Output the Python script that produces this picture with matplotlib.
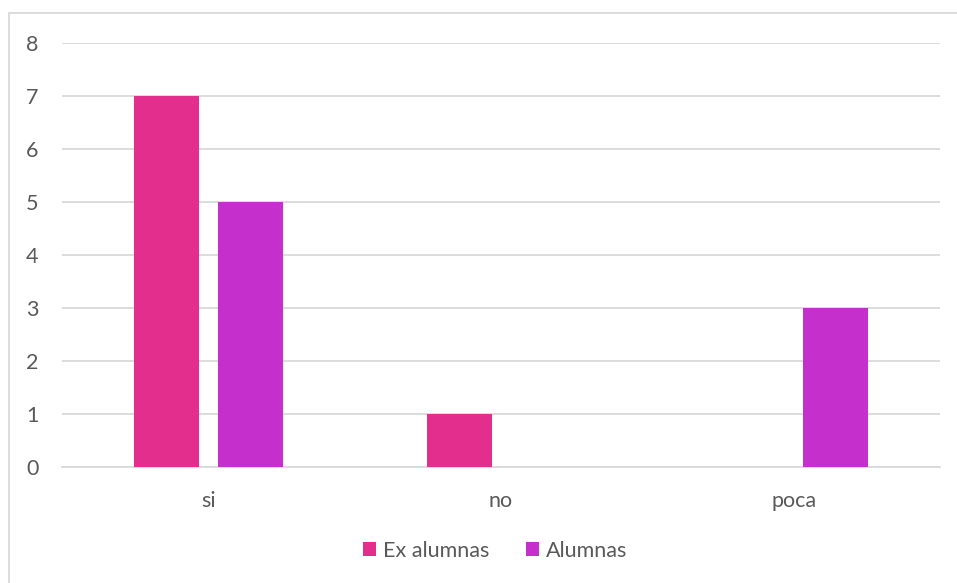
import matplotlib
matplotlib.use("Agg")
import matplotlib.pyplot as plt
from matplotlib.patches import Rectangle
import numpy as np

categories = ["si", "no", "poca"]
ex_alumnas = [7, 1, 0]
alumnas = [5, 0, 3]
series_names = ["Ex alumnas", "Alumnas"]
yticks = [0, 1, 2, 3, 4, 5, 6, 7, 8]

c_ex = "#E32E8D"
c_al = "#C52FCB"
txt = "#595959"
grid = "#D9D9D9"

plt.rcParams["font.family"] = ["Lato", "DejaVu Sans"]

W, H = 957, 583
fig = plt.figure(figsize=(W / 100, H / 100), dpi=100)
ax = fig.add_axes([62 / W, (H - 467) / H, (940 - 62) / W, (467 - 43) / H])

x = np.arange(len(categories))
bw = 0.222
off = 0.143
ax.bar(x - off, ex_alumnas, bw, color=c_ex, label=series_names[0], zorder=3)
ax.bar(x + off, alumnas, bw, color=c_al, label=series_names[1], zorder=3)

ax.set_xlim(-0.5, len(categories) - 0.5)
ax.set_ylim(0, 8)
ax.set_yticks(yticks)
ax.set_yticklabels([str(v) for v in yticks])
ax.set_xticks(x)
ax.set_xticklabels(categories)
ax.yaxis.grid(True, color=grid, linewidth=1.3, zorder=0)
ax.set_axisbelow(True)
for s in ["top", "right", "left"]:
    ax.spines[s].set_visible(False)
ax.spines["bottom"].set_color(grid)
ax.spines["bottom"].set_linewidth(1.3)
ax.tick_params(axis="both", length=0, labelsize=15.5, labelcolor=txt)
ax.tick_params(axis="y", pad=17)
ax.tick_params(axis="x", pad=17)
for lbl in ax.get_yticklabels():
    lbl.set_horizontalalignment("right")

leg = fig.legend(loc="center", bbox_to_anchor=(495 / W, (H - 551) / H), ncol=2,
                 frameon=False, fontsize=15.5, handlelength=0.62, handleheight=0.62,
                 handletextpad=0.3, columnspacing=1.7, labelcolor=txt)

fig.patches.append(Rectangle((9 / W, -0.1), 1.2, (H - 13) / H + 0.1,
                             transform=fig.transFigure, fill=False,
                             edgecolor=grid, linewidth=1.3))

fig.savefig("out.png", dpi=100, facecolor="white")
